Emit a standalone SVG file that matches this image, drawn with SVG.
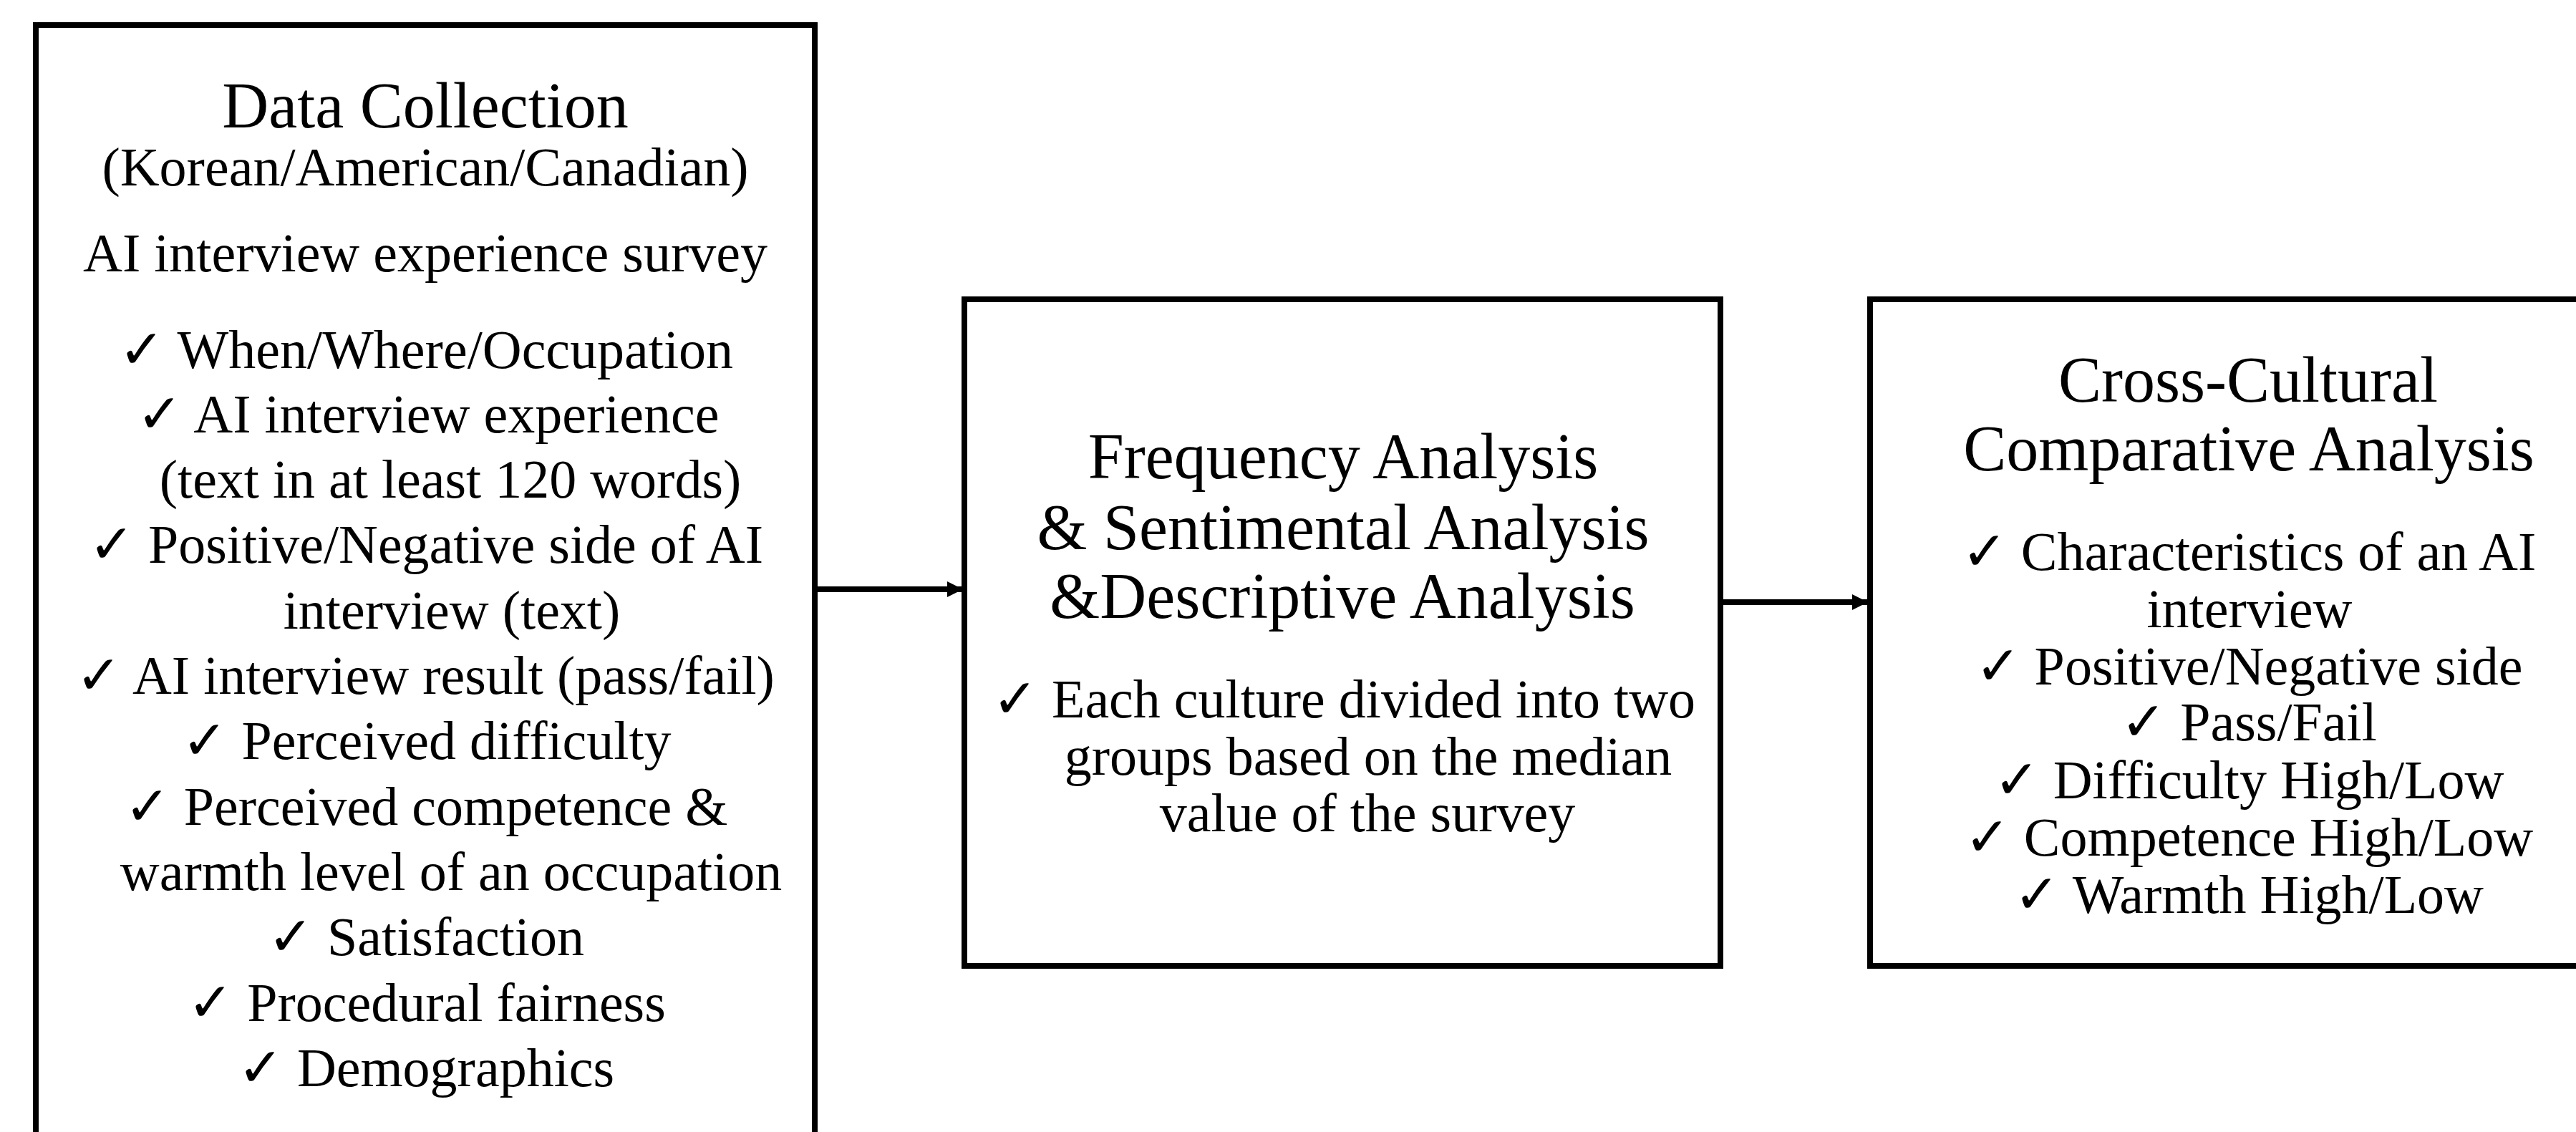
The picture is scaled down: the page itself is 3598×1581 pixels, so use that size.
<svg xmlns="http://www.w3.org/2000/svg" width="3598" height="1581" viewBox="0 0 3598 1581">
<style>
.box{fill:#fff;stroke:#000;stroke-width:8}
.t{font-family:"Liberation Serif","Times New Roman",serif;fill:#000;text-anchor:middle}
.h{font-size:90px}
.b{font-size:76px}
.conn{stroke:#000;stroke-width:8;fill:none}
</style>
<defs>
<marker id="ah" viewBox="0 0 10 10" refX="10" refY="5" markerWidth="2.8" markerHeight="2.9" orient="auto" markerUnits="strokeWidth">
<path d="M0,0 L10,5 L0,10 z" fill="#000"/>
</marker>
</defs>
<rect width="3598" height="1581" fill="#fff"/>
<g id="data-collection">
<rect class="box" x="50" y="35" width="1088" height="1600"/>
<text class="t h" x="594" y="178">Data Collection</text>
<text class="t b" x="594" y="259">(Korean/American/Canadian)</text>
<text class="t b" x="594" y="379">AI interview experience survey</text>
<text class="t b" x="595" y="514">✓ When/Where/Occupation</text>
<text class="t b" x="598" y="604">✓ AI interview experience</text>
<text class="t b" x="629" y="695">(text in at least 120 words)</text>
<text class="t b" x="595" y="786">✓ Positive/Negative side of AI</text>
<text class="t b" x="631" y="878">interview (text)</text>
<text class="t b" x="594" y="969">✓ AI interview result (pass/fail)</text>
<text class="t b" x="596" y="1060">✓ Perceived difficulty</text>
<text class="t b" x="595" y="1152">✓ Perceived competence &amp;</text>
<text class="t b" x="630" y="1243">warmth level of an occupation</text>
<text class="t b" x="595" y="1334">✓ Satisfaction</text>
<text class="t b" x="596" y="1426">✓ Procedural fairness</text>
<text class="t b" x="595" y="1517">✓ Demographics</text>
</g>
<g id="frequency-analysis">
<rect class="box" x="1347" y="418" width="1056" height="931"/>
<text class="t h" x="1876" y="668">Frequency Analysis</text>
<text class="t h" x="1876" y="767">&amp; Sentimental Analysis</text>
<text class="t h" x="1875" y="863">&amp;Descriptive Analysis</text>
<text class="t b" x="1877" y="1002">✓ Each culture divided into two</text>
<text class="t b" x="1911" y="1082">groups based on the median</text>
<text class="t b" x="1910" y="1161">value of the survey</text>
</g>
<g id="cross-cultural">
<rect class="box" x="2612" y="418" width="1100" height="931"/>
<text class="t h" x="3140" y="561">Cross-Cultural</text>
<text class="t h" x="3141" y="657">Comparative Analysis</text>
<text class="t b" x="3141" y="796">✓ Characteristics of an AI</text>
<text class="t b" x="3142" y="876">interview</text>
<text class="t b" x="3141" y="956">✓ Positive/Negative side</text>
<text class="t b" x="3141" y="1034">✓ Pass/Fail</text>
<text class="t b" x="3141" y="1115">✓ Difficulty High/Low</text>
<text class="t b" x="3141" y="1195">✓ Competence High/Low</text>
<text class="t b" x="3141" y="1275">✓ Warmth High/Low</text>
</g>
<g id="connectors">
<line class="conn" x1="1142" y1="823" x2="1345" y2="823" marker-end="url(#ah)"/>
<line class="conn" x1="2407" y1="841" x2="2609" y2="841" marker-end="url(#ah)"/>
</g>
</svg>
